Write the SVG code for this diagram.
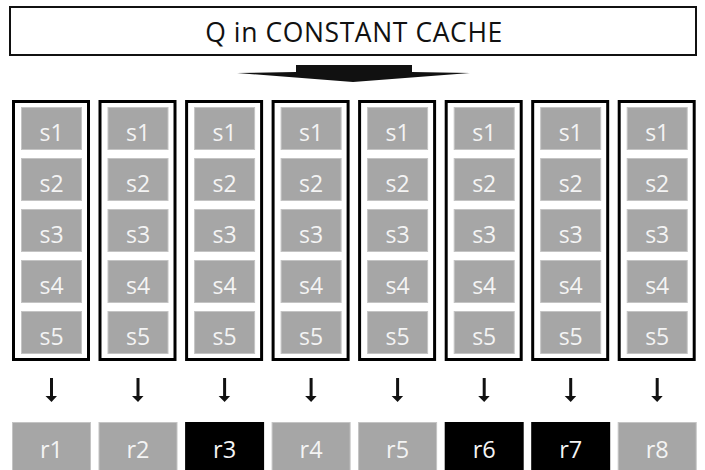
<svg xmlns="http://www.w3.org/2000/svg" width="705" height="470" viewBox="0 0 705 470">
<style>
text{font-family:"Open Sans","Noto Sans","Liberation Sans",sans-serif;text-anchor:middle}
.col{fill:#fff;stroke:#000;stroke-width:3}
.s{fill:#a6a6a6;stroke:#c4c4c4;stroke-width:1}
.st{fill:#f4f4f4;font-size:23px}
.rg{fill:#a6a6a6;stroke:#c4c4c4;stroke-width:1}
.rb{fill:#000}
.rt{fill:#f4f4f4;font-size:23.5px}
.title{fill:#111;font-size:26.5px;letter-spacing:0.6px}
</style>
<defs>
<g id="stack">
<rect class="col" x="1.5" y="101.5" width="75" height="258"/>
<rect class="s" x="9.5" y="107.5" width="60" height="42"/>
<rect class="s" x="9.5" y="158.5" width="60" height="42"/>
<rect class="s" x="9.5" y="209.5" width="60" height="42"/>
<rect class="s" x="9.5" y="260.5" width="60" height="42"/>
<rect class="s" x="9.5" y="311.5" width="60" height="42"/>
<text class="st" x="39.5" y="140.5">s1</text>
<text class="st" x="39.5" y="191.5">s2</text>
<text class="st" x="39.5" y="242.5">s3</text>
<text class="st" x="39.5" y="293.5">s4</text>
<text class="st" x="39.5" y="344.5">s5</text>
</g>
<g id="arr">
<rect x="38" y="378" width="3" height="19" fill="#111"/>
<polygon points="33.5,396 45,396 39.5,402" fill="#111"/>
</g>
</defs>
<g id="cache">
<rect x="10" y="7" width="686" height="48" fill="#fff" stroke="#111" stroke-width="2"/>
<text class="title" x="354" y="42">Q in CONSTANT CACHE</text>
</g>
<g id="connectors">
<polygon points="296,65 412,65 412,72 470,73 353,82 237,73 296,72" fill="#111"/>
<use href="#arr" x="12"/>
<use href="#arr" x="98.5"/>
<use href="#arr" x="185.1"/>
<use href="#arr" x="271.6"/>
<use href="#arr" x="358.1"/>
<use href="#arr" x="444.7"/>
<use href="#arr" x="531.2"/>
<use href="#arr" x="617.7"/>
</g>
<g id="col1"><use href="#stack" x="12"/></g>
<g id="col2"><use href="#stack" x="98.5"/></g>
<g id="col3"><use href="#stack" x="185.1"/></g>
<g id="col4"><use href="#stack" x="271.6"/></g>
<g id="col5"><use href="#stack" x="358.1"/></g>
<g id="col6"><use href="#stack" x="444.7"/></g>
<g id="col7"><use href="#stack" x="531.2"/></g>
<g id="col8"><use href="#stack" x="617.7"/></g>
<g id="r1"><rect class="rg" x="12.5" y="422.5" width="78" height="50"/><text class="rt" x="51.5" y="457.5">r1</text></g>
<g id="r2"><rect class="rg" x="99" y="422.5" width="78" height="50"/><text class="rt" x="138" y="457.5">r2</text></g>
<g id="r3"><rect class="rb" x="185.1" y="422" width="79" height="50"/><text class="rt" x="224.6" y="457.5">r3</text></g>
<g id="r4"><rect class="rg" x="272.1" y="422.5" width="78" height="50"/><text class="rt" x="311.1" y="457.5">r4</text></g>
<g id="r5"><rect class="rg" x="358.6" y="422.5" width="78" height="50"/><text class="rt" x="397.6" y="457.5">r5</text></g>
<g id="r6"><rect class="rb" x="444.7" y="422" width="79" height="50"/><text class="rt" x="484.2" y="457.5">r6</text></g>
<g id="r7"><rect class="rb" x="531.2" y="422" width="79" height="50"/><text class="rt" x="570.7" y="457.5">r7</text></g>
<g id="r8"><rect class="rg" x="618.2" y="422.5" width="78" height="50"/><text class="rt" x="657.2" y="457.5">r8</text></g>
</svg>
